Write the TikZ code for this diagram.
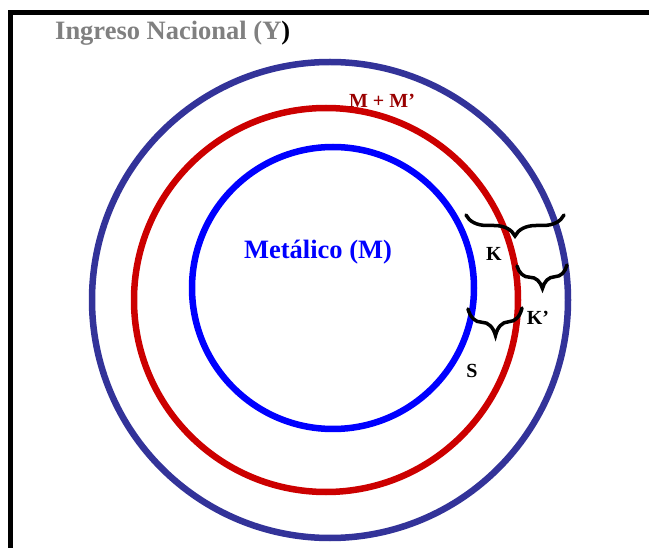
\documentclass[tikz,border=0pt]{standalone}
\usepackage{fontspec}
\setmainfont{Liberation Serif}
\usetikzlibrary{decorations.pathreplacing}
\definecolor{outerc}{HTML}{333399}
\definecolor{redc}{HTML}{CC0000}
\definecolor{bluec}{HTML}{0000FF}
\definecolor{mmc}{HTML}{990000}
\definecolor{grayc}{HTML}{808080}
\tikzset{
  ring/.style={circle, draw, line width=6.5pt, inner sep=0pt},
  lbl/.style={font=\bfseries\fontsize{20}{22}\selectfont, inner sep=0pt},
  bracepath/.style={decorate, line width=3.5pt, line cap=round,
    decoration={brace, mirror, amplitude=#1}},
}
\begin{document}
\begin{tikzpicture}[x=1pt,y=-1pt]
\useasboundingbox (0,0) rectangle (649,548);
\fill[white] (0,0) rectangle (649,548);
% frame
\coordinate (tl) at (10,13);
\coordinate (tr) at (660,13);
\coordinate (bl) at (10,560);
\draw[line width=5pt] (bl) -- (tl) -- (tr);
% rings
\node[ring, draw=outerc, minimum size=476pt] (Y) at (330,300) {};
\node[ring, draw=redc, minimum size=384pt] (MM) at (326,300) {};
\node[ring, draw=bluec, minimum size=282pt] (M) at (333,288) {};
% texts
\node[anchor=west, text=grayc, font=\bfseries\fontsize{26.5}{28}\selectfont, inner sep=0pt] (title) at (55,33) {Ingreso Nacional (Y\textcolor{black}{)}};
\node[text=mmc, lbl] (mmlbl) at (382,101) {M + M’};
\node[text=bluec, font=\bfseries\fontsize{26.5}{28}\selectfont, inner sep=0pt] (met) at (318,252) {Metálico (M)};
\node[lbl] (K) at (494,254) {K};
\node[lbl] (Kp) at (538,318) {K\char"0027};
\node[lbl] (S) at (472,371) {S};
% braces
\coordinate (b1a) at (466,215);
\coordinate (b1b) at (564,215);
\coordinate (b2a) at (517,266);
\coordinate (b2b) at (567,265);
\coordinate (b3a) at (468,309);
\coordinate (b3b) at (522,308);
\draw[bracepath=21pt] (b1a) -- (b1b);
\draw[bracepath=23pt] (b2a) -- (b2b);
\draw[bracepath=27pt] (b3a) -- (b3b);
\end{tikzpicture}
\end{document}
